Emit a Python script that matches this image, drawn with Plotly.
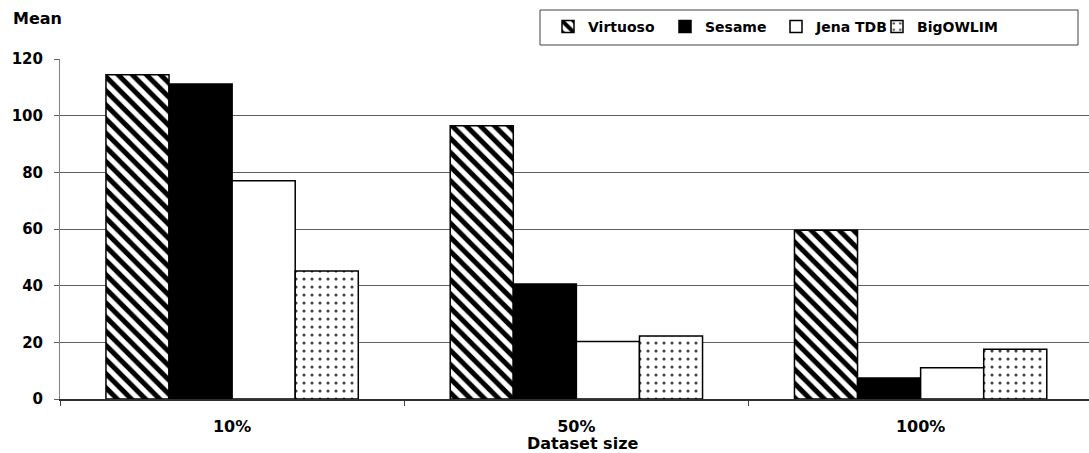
import plotly.graph_objects as go

# Mean values per triple store at each dataset size
categories = ["10%", "50%", "100%"]
virtuoso = [114.4, 96.4, 59.6]
sesame = [111.2, 40.6, 7.4]
jena_tdb = [77.0, 20.3, 11.0]
bigowlim = [45.2, 22.2, 17.6]
y_ticks = [0, 20, 40, 60, 80, 100, 120]

W, H = 1089, 453
ML, MR, MT, MB = 60, 0, 59, 54
FONT = "DejaVu Sans"

series = [
    ("Virtuoso", virtuoso, dict(color="white", pattern=dict(
        shape="\\", fgcolor="black", bgcolor="white", fgopacity=1, size=10, solidity=0.5))),
    ("Sesame", sesame, dict(color="black")),
    ("Jena TDB", jena_tdb, dict(color="white")),
    ("BigOWLIM", bigowlim, dict(color="white", pattern=dict(
        shape=".", fgcolor="#444444", bgcolor="white", fgopacity=1, size=8, solidity=0.12))),
]
legend_widths = [72, 66, 56, 80]

fig = go.Figure()
for (name, vals, marker), lw in zip(series, legend_widths):
    fig.add_trace(go.Bar(
        name=name, x=categories, y=vals,
        marker=dict(line=dict(color="black", width=1.5), **marker),
        legendwidth=lw,
    ))

# plot area runs slightly past the right edge, so trim the last category
plot_w = W - ML - MR
px_per_cat = 344.25
x_range = [-0.5, -0.5 + plot_w / px_per_cat]

fig.update_layout(
    width=W, height=H,
    margin=dict(l=ML, r=MR, t=MT, b=MB),
    paper_bgcolor="white", plot_bgcolor="white",
    barmode="group", bargap=0.267, bargroupgap=0,
    font=dict(family=FONT, size=14, color="black", weight="bold"),
    showlegend=True,
    legend=dict(
        orientation="h", xref="container", yref="container",
        x=(548) / W, y=1 - 11 / H, xanchor="left", yanchor="top",
        bgcolor="rgba(0,0,0,0)", borderwidth=0,
        font=dict(family=FONT, size=14, color="black", weight="bold"),
        traceorder="normal",
    ),
    xaxis=dict(
        type="category", range=x_range,
        showline=True, linecolor="#303030", linewidth=1.5,
        ticks="outside", ticklen=5, tickcolor="#404040", tickson="boundaries",
        tickfont=dict(family=FONT, size=16, color="black", weight="bold"),
        ticklabelstandoff=12,
        showgrid=False, zeroline=False,
    ),
    yaxis=dict(
        range=[0, 120], tickvals=y_ticks,
        showline=True, linecolor="#808080", linewidth=1,
        ticks="outside", ticklen=5, tickcolor="#606060",
        tickfont=dict(family=FONT, size=15, color="black", weight="bold"),
        showgrid=True, gridcolor="#606060", gridwidth=1,
        zeroline=False, ticklabelstandoff=8,
    ),
)

# legend frame
def px_to_paper_x(px):
    return (px - ML) / plot_w

def px_to_paper_y(py):
    return (H - MB - py) / (H - MT - MB)

fig.add_shape(
    type="rect", xref="paper", yref="paper",
    x0=px_to_paper_x(540), x1=px_to_paper_x(1078),
    y0=px_to_paper_y(45), y1=px_to_paper_y(10),
    line=dict(color="#404040", width=1), fillcolor="rgba(0,0,0,0)", layer="above",
)

fig.add_annotation(
    text="Mean", xref="paper", yref="paper",
    x=px_to_paper_x(11), y=px_to_paper_y(19), xanchor="left", yanchor="middle",
    showarrow=False, font=dict(family=FONT, size=16, color="black", weight="bold"),
)
fig.add_annotation(
    text="Dataset size", xref="paper", yref="paper",
    x=px_to_paper_x(582), y=px_to_paper_y(443), xanchor="center", yanchor="middle",
    showarrow=False, font=dict(family=FONT, size=16, color="black", weight="bold"),
)

fig.write_html("out.html")
